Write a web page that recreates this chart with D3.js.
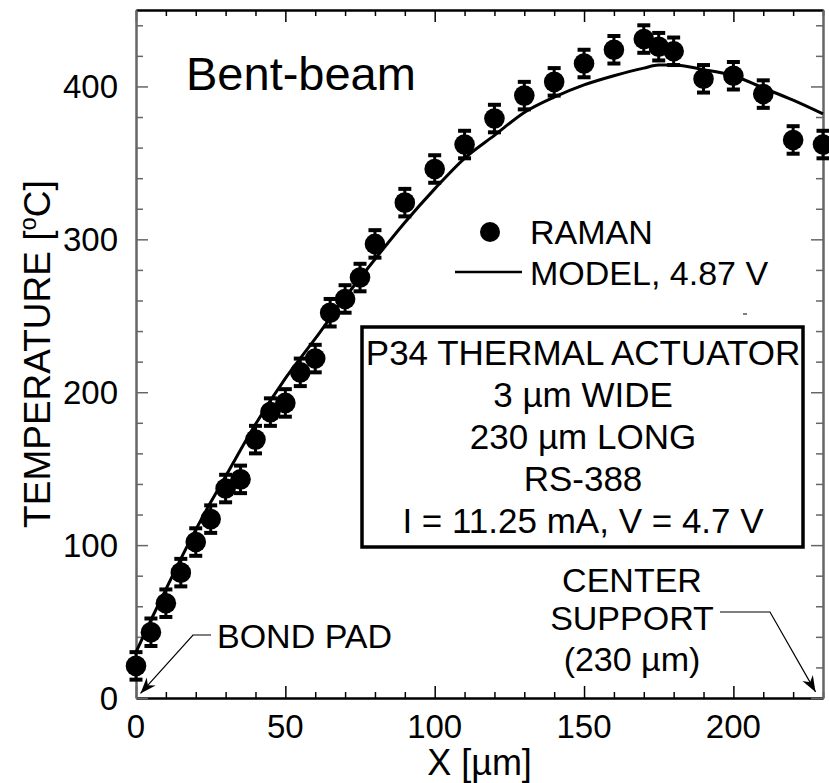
<!DOCTYPE html>
<html>
<head>
<meta charset="utf-8">
<script src="https://cdn.jsdelivr.net/npm/d3@7"></script>
<style>
  html, body { margin: 0; padding: 0; background: #fff; }
  svg { display: block; font-family: "Liberation Sans", Arial, sans-serif; }
</style>
</head>
<body>
<svg id="chart" width="829" height="783"></svg>
<script>
// Raman temperature measurements along the bent-beam actuator
const ramanX = [0, 5, 10, 15, 20, 25, 30, 35, 40, 45, 50, 55, 60, 65, 70, 75, 80,
                90, 100, 110, 120, 130, 140, 150, 160, 170, 175, 180, 190, 200, 210, 220, 230];
const ramanT = [21, 43, 62, 82, 102, 117, 137, 143, 169, 187, 193, 213, 222, 252, 261, 275, 297,
                324, 346, 362, 379, 394, 403, 415, 424, 431, 426, 423, 405, 407, 395, 365, 362];
const ramanErr = 9;

// Thermal model prediction at 4.87 V
const modelX = [0, 5, 10, 15, 20, 25, 30, 40, 50, 60, 70, 80, 90, 100, 110, 120,
                130, 140, 150, 160, 170, 175, 180, 190, 200, 210, 220, 230];
const modelT = [30, 51, 71, 91, 110, 128, 145, 179, 209, 235, 262, 287, 311, 333, 353, 368,
                383, 393, 401, 407, 412, 414, 414, 411, 407, 399, 391, 382];

const xTicks = [0, 50, 100, 150, 200];
const yTicks = [0, 100, 200, 300, 400];

const infoLines = ["P34 THERMAL ACTUATOR", "3 \u00b5m WIDE", "230 \u00b5m LONG", "RS-388",
                   "I = 11.25 mA, V = 4.7 V"];

const svg = d3.select("#chart");
const plotLeft = 136, plotRight = 823, plotTop = 10, plotBottom = 698;

const x = d3.scaleLinear().domain([0, 230]).range([plotLeft, plotRight]);
const y = d3.scaleLinear().domain([0, 450]).range([plotBottom, plotTop]);

// ---- axes frame with inward ticks on all four sides ----
const xMinor = d3.range(0, 231, 10);
const yMinor = d3.range(0, 451, 20);

function frameAxis(axisFn, scale, values, len, color, width, transform) {
  const g = svg.append("g").attr("transform", transform)
    .call(axisFn(scale).tickValues(values).tickSize(len).tickSizeOuter(0).tickFormat(""));
  g.select(".domain").attr("stroke", color).attr("stroke-width", width);
  g.selectAll(".tick line").attr("stroke", color).attr("stroke-width", 1.5);
  g.selectAll(".tick text").remove();
  return g;
}
// bottom / top
frameAxis(d3.axisTop, x, xMinor.filter(v => v % 50), 6, "#000", 2, `translate(0,${plotBottom})`);
frameAxis(d3.axisTop, x, xTicks, 12, "#000", 2, `translate(0,${plotBottom})`);
frameAxis(d3.axisBottom, x, xMinor.filter(v => v % 50), 6, "#000", 2, `translate(0,${plotTop})`);
frameAxis(d3.axisBottom, x, xTicks, 12, "#000", 2, `translate(0,${plotTop})`);
// left / right
frameAxis(d3.axisRight, y, yMinor.filter(v => v % 100), 7, "#666", 2, `translate(${plotLeft},0)`);
frameAxis(d3.axisRight, y, yTicks, 12, "#666", 2, `translate(${plotLeft},0)`);
frameAxis(d3.axisLeft, y, yMinor.filter(v => v % 100), 7, "#666", 2, `translate(${plotRight},0)`);
frameAxis(d3.axisLeft, y, yTicks, 12, "#666", 2, `translate(${plotRight},0)`);

// tick labels
svg.append("g").selectAll("text").data(yTicks).join("text")
  .attr("x", plotLeft - 18).attr("y", d => y(d)).attr("dy", "0.36em")
  .attr("text-anchor", "end").attr("font-size", 33).text(d => d);
svg.append("g").selectAll("text").data(xTicks).join("text")
  .attr("x", d => x(d)).attr("y", 738)
  .attr("text-anchor", "middle").attr("font-size", 33).text(d => d);

// axis titles
svg.append("text").attr("x", (plotLeft + plotRight) / 2).attr("y", 775)
  .attr("text-anchor", "middle").attr("font-size", 36).text("X [\u00b5m]");
const yTitle = svg.append("text")
  .attr("transform", `translate(50,${(plotTop + plotBottom) / 2}) rotate(-90)`)
  .attr("text-anchor", "middle").attr("font-size", 37);
yTitle.append("tspan").text("TEMPERATURE [");
yTitle.append("tspan").attr("font-size", 24).attr("dy", -14).text("o");
yTitle.append("tspan").attr("dy", 14).text("C]");

// ---- model curve ----
const modelData = modelX.map((v, i) => ({x: v, t: modelT[i]}));
svg.append("path").datum(modelData)
  .attr("fill", "none").attr("stroke", "#000").attr("stroke-width", 3)
  .attr("d", d3.line().x(d => x(d.x)).y(d => y(d.t)).curve(d3.curveMonotoneX));

// ---- Raman points with error bars ----
const pts = ramanX.map((v, i) => ({x: v, t: ramanT[i]}));
const eb = svg.append("g").attr("stroke", "#000");
eb.selectAll(".stem").data(pts).join("line").attr("class", "stem")
  .attr("stroke-width", 3)
  .attr("x1", d => x(d.x)).attr("x2", d => x(d.x))
  .attr("y1", d => y(d.t + ramanErr)).attr("y2", d => y(d.t - ramanErr));
eb.selectAll(".capt").data(pts).join("line").attr("class", "capt")
  .attr("stroke-width", 4)
  .attr("x1", d => x(d.x) - 6.5).attr("x2", d => x(d.x) + 6.5)
  .attr("y1", d => y(d.t + ramanErr)).attr("y2", d => y(d.t + ramanErr));
eb.selectAll(".capb").data(pts).join("line").attr("class", "capb")
  .attr("stroke-width", 4)
  .attr("x1", d => x(d.x) - 6.5).attr("x2", d => x(d.x) + 6.5)
  .attr("y1", d => y(d.t - ramanErr)).attr("y2", d => y(d.t - ramanErr));
svg.append("g").selectAll("circle").data(pts).join("circle")
  .attr("cx", d => x(d.x)).attr("cy", d => y(d.t)).attr("r", 10.3).attr("fill", "#000");

// ---- title ----
svg.append("text").attr("x", 186).attr("y", 90).attr("font-size", 47).text("Bent-beam");

// ---- legend ----
svg.append("circle").attr("cx", 490).attr("cy", 232).attr("r", 10).attr("fill", "#000");
svg.append("text").attr("x", 530).attr("y", 244).attr("font-size", 34).text("RAMAN");
svg.append("line").attr("x1", 455).attr("x2", 522).attr("y1", 272).attr("y2", 272)
  .attr("stroke", "#000").attr("stroke-width", 2.5);
svg.append("text").attr("x", 530).attr("y", 285).attr("font-size", 34).text("MODEL, 4.87 V");
svg.append("line").attr("x1", 743).attr("x2", 747).attr("y1", 314).attr("y2", 314)
  .attr("stroke", "#000").attr("stroke-width", 1);

// ---- info box ----
svg.append("rect").attr("x", 362).attr("y", 327).attr("width", 441).attr("height", 220)
  .attr("fill", "none").attr("stroke", "#000").attr("stroke-width", 3.5);
svg.append("g").selectAll("text").data(infoLines).join("text")
  .attr("x", 583).attr("y", (d, i) => 365 + i * 42)
  .attr("text-anchor", "middle").attr("font-size", 35).text(d => d);

// ---- annotations with arrows ----
const defs = svg.append("defs");
defs.append("marker").attr("id", "arrow").attr("viewBox", "-16 -7 18 14")
  .attr("refX", 0).attr("refY", 0).attr("markerWidth", 18).attr("markerHeight", 14)
  .attr("markerUnits", "userSpaceOnUse").attr("orient", "auto")
  .append("path").attr("d", "M0,0 L-16,-6 L-11,0 L-16,6 Z").attr("fill", "#000");

svg.append("text").attr("x", 217).attr("y", 648).attr("font-size", 34).text("BOND PAD");
svg.append("path")
  .attr("d", `M211,635 L193,635 L${x(1.5)},${y(3)}`)
  .attr("fill", "none").attr("stroke", "#000").attr("stroke-width", 1.2)
  .attr("marker-end", "url(#arrow)");

const support = svg.append("g").attr("font-size", 34).attr("text-anchor", "middle");
support.append("text").attr("x", 632).attr("y", 592).text("CENTER");
support.append("text").attr("x", 632).attr("y", 630).text("SUPPORT");
support.append("text").attr("x", 632).attr("y", 671).text("(230 \u00b5m)");
svg.append("path")
  .attr("d", `M720,612 L770,612 L${x(227.5)},${y(4)}`)
  .attr("fill", "none").attr("stroke", "#000").attr("stroke-width", 1.2)
  .attr("marker-end", "url(#arrow)");
</script>
</body>
</html>
